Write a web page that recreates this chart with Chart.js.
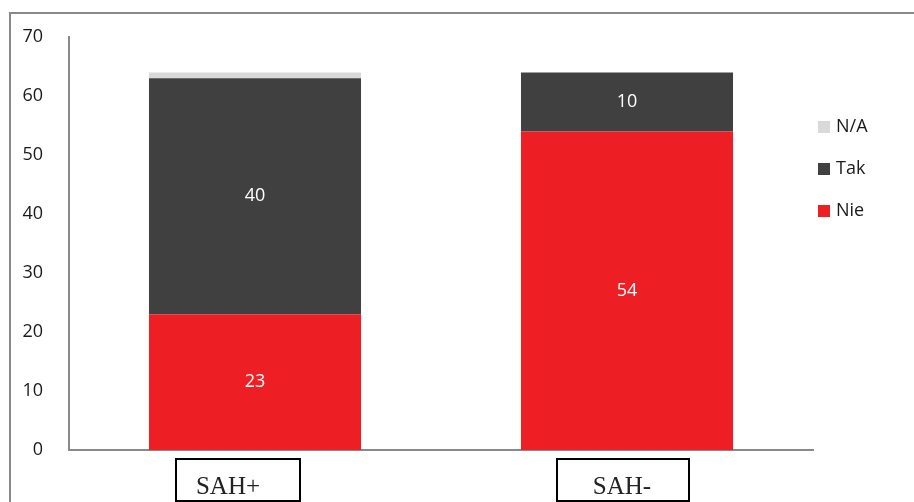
<!DOCTYPE html>
<html>
<head>
<meta charset="utf-8">
<style>
  html, body { margin: 0; padding: 0; background: #fff; }
  #wrap { width: 914px; height: 502px; position: relative; }
</style>
<script src="https://cdn.jsdelivr.net/npm/chart.js@4/dist/chart.umd.min.js"></script>
</head>
<body>
<div id="wrap"><canvas id="sahChart" width="914" height="502"></canvas></div>
<script>
const categories = ['SAH+', 'SAH-'];
const nieValues = [23, 54];
const takValues = [40, 10];
const naValues = [1, 0];
const yTicks = [0, 10, 20, 30, 40, 50, 60, 70];

const colors = { nie: '#ED1F25', tak: '#404040', na: '#D9D9D9' };
const axisGray = '#898989';

// ramka wykresu, etykiety wartosci, legenda i podpisy w ramkach
const decorPlugin = {
  id: 'decor',
  beforeDraw(chart) {
    const c = chart.ctx;
    c.save();
    c.strokeStyle = axisGray;
    c.lineWidth = 2;
    c.beginPath();
    c.moveTo(10, 502);
    c.lineTo(10, 13);
    c.lineTo(914, 13);
    c.stroke();
    c.restore();
  },
  afterDatasetsDraw(chart) {
    const c = chart.ctx;
    c.save();
    c.font = '18px "Open Sans", sans-serif';
    c.fillStyle = '#ffffff';
    c.textAlign = 'center';
    c.textBaseline = 'middle';
    chart.data.datasets.forEach((ds, i) => {
      if (ds.label === 'N/A') return;
      chart.getDatasetMeta(i).data.forEach((bar, j) => {
        const v = ds.data[j];
        if (!v) return;
        c.fillText(String(v), bar.x, (bar.y + bar.base) / 2);
      });
    });
    c.restore();
  },
  afterDraw(chart) {
    const c = chart.ctx;
    const x = chart.scales.x;
    c.save();
    // legenda
    const order = [2, 1, 0];
    const ys = [127, 169, 211];
    c.font = '18px "Open Sans", sans-serif';
    c.textBaseline = 'middle';
    c.textAlign = 'left';
    order.forEach((di, k) => {
      const ds = chart.data.datasets[di];
      c.fillStyle = ds.backgroundColor;
      c.fillRect(818, ys[k] - 6, 12, 12);
      c.fillStyle = '#1a1a1a';
      c.fillText(ds.label, 836, ys[k]);
    });
    // podpisy kategorii w ramkach
    const boxes = [[176, 124], [557, 132]];
    c.font = '25px "Liberation Serif", "Times New Roman", serif';
    c.textAlign = 'center';
    categories.forEach((cat, i) => {
      const px = x.getPixelForValue(i);
      const b = boxes[i];
      c.fillStyle = '#fff';
      c.fillRect(b[0], 458, b[1], 43);
      c.strokeStyle = '#000';
      c.lineWidth = 2;
      c.strokeRect(b[0], 459, b[1], 42);
      c.fillStyle = '#222';
      c.fillText(cat, px - (i === 0 ? 27 : 5), 487);
    });
    c.restore();
  }
};

new Chart(document.getElementById('sahChart'), {
  type: 'bar',
  data: {
    labels: categories,
    datasets: [
      { label: 'Nie', data: nieValues, backgroundColor: colors.nie },
      { label: 'Tak', data: takValues, backgroundColor: colors.tak },
      { label: 'N/A', data: naValues, backgroundColor: colors.na }
    ]
  },
  options: {
    responsive: false,
    animation: false,
    events: [],
    layout: { padding: { top: 37, right: 101, left: 0, bottom: 0 } },
    datasets: { bar: { categoryPercentage: 1, barPercentage: 0.57, borderWidth: 0 } },
    plugins: { legend: { display: false }, tooltip: { enabled: false } },
    scales: {
      x: {
        stacked: true,
        grid: { display: false },
        border: { color: axisGray, width: 2 },
        ticks: { display: false },
        afterFit(s) { s.height = 52; }
      },
      y: {
        stacked: true,
        min: 0,
        max: 70,
        afterBuildTicks(s) { s.ticks = yTicks.map(v => ({ value: v })); },
        grid: { display: false },
        border: { color: axisGray, width: 2 },
        ticks: {
          color: '#1a1a1a',
          padding: 18,
          font: { family: '"Open Sans", sans-serif', size: 18 }
        },
        afterFit(s) { s.width = 69; }
      }
    }
  },
  plugins: [decorPlugin]
});
</script>
</body>
</html>
